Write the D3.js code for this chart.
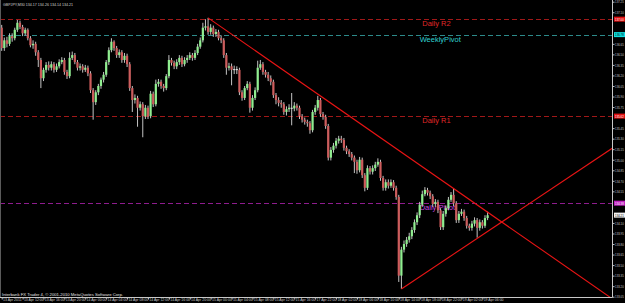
<!DOCTYPE html>
<html>
<head>
<meta charset="utf-8">
<script src="https://cdn.jsdelivr.net/npm/d3@7"></script>
<style>
  html, body { margin: 0; padding: 0; background: #000; overflow: hidden; }
  svg { display: block; font-family: "Liberation Sans", Arial, sans-serif; }
</style>
</head>
<body>
<svg id="chart" width="625" height="303"></svg>
<script>
// GBPJPY M30 bars (open = previous close)
const firstOpen = 136.88;
const closes = [
  136.59, 136.70, 136.65, 136.76, 136.73, 136.85, 136.95, 136.89, 136.80, 136.85,
  136.73, 136.63, 136.65, 136.53, 136.42, 136.16, 136.28, 136.35, 136.31, 136.36,
  136.28, 136.33, 136.39, 136.42, 136.25, 136.19, 136.45, 136.49, 136.39, 136.31,
  136.33, 136.28, 136.31, 136.23, 135.99, 135.82, 135.96, 136.05, 136.14, 136.21,
  136.39, 136.56, 136.68, 136.59, 136.49, 136.53, 136.42, 136.48, 136.36, 136.02,
  135.85, 135.88, 135.74, 135.79, 135.62, 135.74, 135.62, 135.94, 135.79, 136.08,
  136.11, 136.05, 136.02, 136.19, 136.42, 136.38, 136.33, 136.39, 136.45, 136.36,
  136.42, 136.45, 136.49, 136.45, 136.52, 136.61, 136.70, 136.88, 136.90, 136.82,
  136.88, 136.79, 136.82, 136.73, 136.70, 136.49, 136.31, 136.33, 136.28, 136.29,
  136.28, 135.96, 135.88, 136.02, 136.08, 135.74, 135.88, 135.99, 136.31, 136.36,
  136.25, 136.21, 136.16, 136.11, 135.92, 135.85, 135.81, 135.79, 135.68, 135.72,
  135.74, 135.73, 135.77, 135.74, 135.62, 135.57, 135.54, 135.52, 135.42, 135.68,
  135.74, 135.85, 135.65, 135.61, 135.48, 135.03, 135.14, 135.20, 135.27, 135.30,
  135.28, 135.17, 135.12, 135.08, 135.03, 134.97, 134.85, 135.00, 134.78, 134.60,
  134.88, 134.83, 134.88, 134.93, 134.97, 134.74, 134.60, 134.68, 134.63, 134.68,
  134.60, 134.47, 133.35, 133.72, 133.80, 133.86, 133.91, 134.00, 134.11, 134.21,
  134.36, 134.51, 134.57, 134.53, 134.48, 134.37, 134.40, 134.28, 134.04, 134.23,
  134.31, 134.43, 134.50, 134.38, 134.14, 134.23, 134.26, 134.17, 134.06, 134.03,
  134.09, 134.14, 134.03, 134.11, 134.06, 134.17, 134.21
];
const highs = [
  136.92, 136.74, 136.75, 136.80, 136.80, 136.88, 136.99, 136.98, 136.92, 136.88,
  136.87, 136.76, 136.70, 136.68, 136.56, 136.45, 136.31, 136.39, 136.40, 136.40,
  136.39, 136.37, 136.43, 136.46, 136.45, 136.28, 136.53, 136.54, 136.52, 136.42,
  136.37, 136.36, 136.35, 136.34, 136.26, 136.02, 135.99, 136.08, 136.17, 136.25,
  136.42, 136.60, 136.73, 136.70, 136.62, 136.57, 136.56, 136.52, 136.51, 136.39,
  136.05, 135.93, 135.91, 135.83, 135.82, 135.78, 135.77, 135.98, 135.97, 136.14,
  136.15, 136.14, 136.08, 136.22, 136.49, 136.45, 136.41, 136.43, 136.49, 136.48,
  136.46, 136.49, 136.53, 136.52, 136.56, 136.65, 136.74, 136.95, 137.00, 137.02,
  136.93, 136.91, 136.86, 136.85, 136.77, 136.73, 136.52, 136.38, 136.37, 136.34,
  136.33, 136.31, 135.99, 136.05, 136.12, 136.11, 135.92, 136.03, 136.41, 136.42,
  136.39, 136.28, 136.25, 136.20, 136.14, 135.95, 135.89, 135.85, 135.82, 135.76,
  135.79, 135.95, 135.82, 135.80, 135.77, 135.65, 135.60, 135.57, 135.55, 135.71,
  135.78, 135.91, 135.88, 135.68, 135.64, 135.51, 135.18, 135.24, 135.31, 135.34,
  135.34, 135.31, 135.20, 135.15, 135.11, 135.06, 135.00, 135.04, 135.03, 134.81,
  134.92, 134.91, 134.92, 134.97, 135.02, 135.00, 134.77, 134.72, 134.72, 134.72,
  134.71, 134.63, 134.50, 133.76, 133.85, 133.90, 133.96, 134.04, 134.15, 134.25,
  134.40, 134.56, 134.61, 134.60, 134.56, 134.51, 134.44, 134.43, 134.31, 134.27,
  134.35, 134.47, 134.54, 134.59, 134.41, 134.27, 134.30, 134.29, 134.20, 134.09,
  134.13, 134.18, 134.17, 134.15, 134.14, 134.21, 134.26
];
const lows = [
  136.55, 136.55, 136.60, 136.62, 136.68, 136.70, 136.82, 136.86, 136.76, 136.77,
  136.70, 136.60, 136.58, 136.48, 136.32, 136.02, 136.12, 136.24, 136.27, 136.27,
  136.24, 136.25, 136.30, 136.36, 136.21, 136.15, 136.16, 136.42, 136.36, 136.27,
  136.27, 136.24, 136.25, 136.19, 135.95, 135.57, 135.78, 135.92, 136.01, 136.10,
  136.18, 136.35, 136.53, 136.55, 136.45, 136.45, 136.38, 136.38, 136.32, 135.98,
  135.68, 135.80, 135.47, 135.70, 135.32, 135.58, 135.58, 135.59, 135.75, 135.76,
  136.04, 136.01, 135.97, 135.99, 136.16, 136.34, 136.29, 136.29, 136.35, 136.32,
  136.33, 136.38, 136.42, 136.41, 136.42, 136.49, 136.58, 136.67, 136.84, 136.78,
  136.78, 136.75, 136.75, 136.70, 136.66, 136.45, 136.21, 136.27, 136.06, 136.22,
  136.22, 135.92, 135.84, 135.85, 135.99, 135.67, 135.70, 135.85, 135.96, 136.28,
  136.21, 136.17, 136.12, 136.06, 135.88, 135.79, 135.76, 135.74, 135.64, 135.63,
  135.68, 135.49, 135.69, 135.70, 135.58, 135.53, 135.50, 135.47, 135.37, 135.39,
  135.64, 135.70, 135.61, 135.57, 135.44, 134.99, 134.99, 135.10, 135.16, 135.23,
  135.24, 135.13, 135.08, 135.04, 134.99, 134.81, 134.80, 134.82, 134.74, 134.55,
  134.57, 134.79, 134.79, 134.84, 134.90, 134.70, 134.56, 134.56, 134.59, 134.60,
  134.56, 134.43, 133.26, 133.16, 133.68, 133.76, 133.82, 133.87, 133.96, 134.07,
  134.17, 134.33, 134.48, 134.49, 134.44, 134.33, 134.33, 134.24, 134.00, 134.00,
  134.19, 134.28, 134.40, 134.34, 134.10, 134.10, 134.20, 134.13, 134.02, 133.99,
  133.99, 134.05, 133.89, 133.99, 134.02, 134.03, 134.14
];

// time axis: one label every 8 bars
const timeLabels = [
  "13 Apr 2011", "13 Apr 12:00", "13 Apr 16:00", "13 Apr 20:00", "14 Apr 00:00",
  "14 Apr 04:00", "14 Apr 08:00", "14 Apr 12:00", "14 Apr 16:00", "14 Apr 20:00",
  "15 Apr 00:00", "15 Apr 04:00", "15 Apr 08:00", "15 Apr 12:00", "15 Apr 16:00",
  "17 Apr 22:00", "18 Apr 02:00", "18 Apr 06:00", "18 Apr 10:00", "18 Apr 14:00",
  "18 Apr 18:00", "18 Apr 22:00", "19 Apr 02:00", "19 Apr 06:00"
];
const barsPerLabel = 8;

const priceTicks = [
  "137.25", "137.10", "136.95", "136.80", "136.65", "136.50", "136.35", "136.20",
  "136.05", "135.90", "135.75", "135.60", "135.45", "135.30", "135.15", "135.00",
  "134.85", "134.70", "134.55", "134.40", "134.25", "134.10", "133.95", "133.80",
  "133.65", "133.50", "133.35", "133.20", "133.05"
];

// horizontal levels drawn on the chart
const levelNames = ["Daily R2", "WeeklyPivot", "Daily R1", "Daily Pivot"];
const levelPrices = [137.00, 136.78, 135.62, 134.38];
const levelLabelBars = [161, 160, 161, 160];

// trend lines: two anchor points [bar, price], drawn as rays to the right
const trendDown = [[79, 137.02], [173, 134.59]];
const trendUp = [[153, 133.16], [182, 133.88]];

const symbolName = "GBPJPY,M30";
const copyright = "Interbank FX Trader 4, \u00a9 2001-2010 MetaQuotes Software Corp.";

const levelStyle = {
  "Daily R2": { line: "#a01818", text: "#e02828", box: "#e01010", boxText: "#fff" },
  "WeeklyPivot": { line: "#2c8a8a", text: "#2fd0d0", box: "#10e0e0", boxText: "#000" },
  "Daily R1": { line: "#a01818", text: "#e02828", box: "#e01010", boxText: "#fff" },
  "Daily Pivot": { line: "#8e1c8e", text: "#c848e0", box: "#c020c0", boxText: "#fff" }
};

const svg = d3.select("#chart"),
  width = +svg.attr("width"),
  height = +svg.attr("height"),
  plot = { left: 0, right: 612.5, top: 0, bottom: 297.5 };

svg.append("rect").attr("width", width).attr("height", height).attr("fill", "#000");

const x = d3.scaleLinear().domain([0, closes.length - 1]).range([1.7, 487.6]);
const y = d3.scaleLinear()
  .domain([+priceTicks[priceTicks.length - 1], +priceTicks[0]])
  .range([296.7, 1.7]);

svg.append("clipPath").attr("id", "plotClip")
  .append("rect")
  .attr("x", plot.left).attr("y", plot.top)
  .attr("width", plot.right - plot.left).attr("height", plot.bottom - plot.top);

const g = svg.append("g").attr("clip-path", "url(#plotClip)");

// level lines + their text
levelNames.forEach((name, i) => {
  const st = levelStyle[name];
  g.append("line")
    .attr("x1", plot.left).attr("x2", plot.right)
    .attr("y1", Math.round(y(levelPrices[i])) + 0.5)
    .attr("y2", Math.round(y(levelPrices[i])) + 0.5)
    .attr("stroke", st.line)
    .attr("stroke-width", 1)
    .attr("stroke-dasharray", "5,3");
  g.append("text")
    .attr("x", x(levelLabelBars[i]))
    .attr("y", y(levelPrices[i]) + 7)
    .attr("fill", st.text)
    .attr("font-size", 7.5)
    .text(name);
});

// candles
const bars = closes.map((c, i) => ({
  i,
  open: i === 0 ? firstOpen : closes[i - 1],
  high: highs[i],
  low: lows[i],
  close: c
}));

const candle = g.selectAll(".candle").data(bars).enter()
  .append("g").attr("class", "candle");

candle.append("line")
  .attr("x1", d => x(d.i)).attr("x2", d => x(d.i))
  .attr("y1", d => y(d.high)).attr("y2", d => y(d.low))
  .attr("stroke", "#c4c4c4")
  .attr("stroke-width", 1);

candle.append("rect")
  .attr("x", d => x(d.i) - 1.1)
  .attr("width", 2.2)
  .attr("y", d => y(Math.max(d.open, d.close)))
  .attr("height", d => Math.max(1, Math.abs(y(d.open) - y(d.close))))
  .attr("fill", d => {
    if (Math.abs(d.open - d.close) < 0.015) return "#e8e8e8";
    return d.close > d.open ? "#90ee90" : "#cd5c5c";
  });

// trend rays
const line = d3.line().x(d => x(d[0])).y(d => y(d[1]));
const endBar = x.invert(plot.right + 2);
[trendDown, trendUp].forEach(t => {
  const slope = (t[1][1] - t[0][1]) / (t[1][0] - t[0][0]);
  const pts = [t[0], [endBar, t[0][1] + slope * (endBar - t[0][0])]];
  g.append("path")
    .attr("d", line(pts))
    .attr("fill", "none")
    .attr("stroke", "#e81414")
    .attr("stroke-width", 1.1);
});

// left border
svg.append("line")
  .attr("x1", 0.5).attr("x2", 0.5).attr("y1", 0).attr("y2", plot.bottom)
  .attr("stroke", "#5a5a5a");

// price boxes on the axis for levels and the last bid
const boxes = levelNames.map((name, i) => ({ price: levelPrices[i], fill: levelStyle[name].box, color: levelStyle[name].boxText }));
boxes.push({ price: closes[closes.length - 1], fill: "#f2f2f2", color: "#000" });

// price axis (labels hidden where a box sits on them)
const shownTicks = priceTicks.map(Number)
  .filter(p => boxes.every(b => Math.abs(y(p) - y(b.price)) > 5.2));
const yAxis = svg.append("g")
  .attr("transform", `translate(${plot.right},0)`)
  .call(d3.axisRight(y).tickValues(shownTicks).tickSize(2).tickFormat(d => d.toFixed(2)));
yAxis.select(".domain").remove();
yAxis.selectAll(".tick line").attr("stroke", "#c0c0c0");
yAxis.selectAll(".tick text")
  .attr("x", 2.6).attr("fill", "#c8c8c8")
  .attr("font-size", 4).attr("font-family", "Liberation Sans, Arial, sans-serif")
  .attr("textLength", 8.6).attr("lengthAdjust", "spacingAndGlyphs");

svg.append("line")
  .attr("x1", plot.right).attr("x2", plot.right)
  .attr("y1", 0).attr("y2", plot.bottom)
  .attr("stroke", "#c8c8c8").attr("stroke-width", 1);

const bx = svg.selectAll(".pbox").data(boxes).enter().append("g").attr("class", "pbox");
bx.append("rect")
  .attr("x", plot.right + 1.5).attr("width", width - plot.right)
  .attr("y", d => y(d.price) - 2.6).attr("height", 5)
  .attr("fill", d => d.fill);
bx.append("text")
  .attr("x", plot.right + 2.6).attr("y", d => y(d.price) + 1.5)
  .attr("fill", d => d.color)
  .attr("font-size", 4)
  .attr("textLength", 8.6).attr("lengthAdjust", "spacingAndGlyphs")
  .text(d => d.price.toFixed(2));

// time axis
const labelBars = timeLabels.map((t, k) => k * barsPerLabel);
svg.append("line")
  .attr("x1", 0).attr("x2", plot.right)
  .attr("y1", plot.bottom).attr("y2", plot.bottom)
  .attr("stroke", "#c8c8c8").attr("stroke-width", 1);
const xAxis = svg.append("g")
  .attr("transform", `translate(0,${plot.bottom})`)
  .call(d3.axisBottom(x).tickValues(labelBars).tickSize(2).tickFormat((d, i) => timeLabels[i]));
xAxis.select(".domain").remove();
xAxis.selectAll(".tick line").attr("stroke", "#c0c0c0");
xAxis.selectAll(".tick text")
  .attr("y", 1.4).attr("dy", "0.71em").attr("x", 0.8)
  .attr("text-anchor", "start")
  .attr("fill", "#c8c8c8")
  .attr("font-size", 3.5)
  .attr("font-family", "Liberation Sans, Arial, sans-serif");

// header + footer text
const last = bars[bars.length - 1];
svg.append("text")
  .attr("x", 3).attr("y", 6)
  .attr("fill", "#d0d0d0").attr("font-size", 4.2)
  .attr("textLength", 70).attr("lengthAdjust", "spacingAndGlyphs")
  .text(`${symbolName}  ${last.open.toFixed(2)} ${last.high.toFixed(2)} ${last.low.toFixed(2)} ${last.close.toFixed(2)}`);

svg.append("text")
  .attr("x", 2).attr("y", 296)
  .attr("fill", "#e0e0e0").attr("font-size", 4.2)
  .attr("textLength", 121).attr("lengthAdjust", "spacingAndGlyphs")
  .text(copyright);
</script>
</body>
</html>
